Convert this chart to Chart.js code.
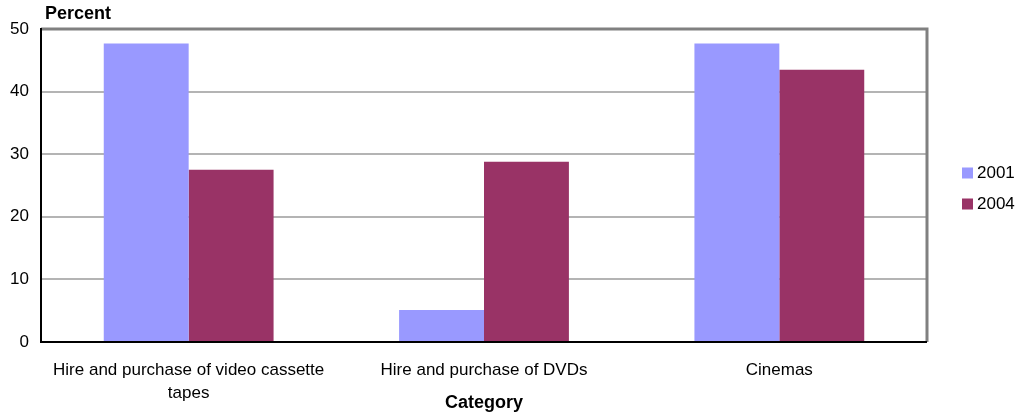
<!DOCTYPE html>
<html><head><meta charset="utf-8">
<script src="https://cdn.jsdelivr.net/npm/chart.js@4.4.1/dist/chart.umd.min.js"></script>
<style>html,body{margin:0;padding:0;background:#fff}#wrap{width:1021px;height:416px;position:relative}</style>
</head><body><div id="wrap"><canvas id="c" width="1021" height="416"></canvas></div>
<script>
const categories = [["Hire and purchase of video cassette","tapes"],"Hire and purchase of DVDs","Cinemas"];
const seriesNames = ["2001","2004"];
const values2001 = [47.7, 5.1, 47.7];
const values2004 = [27.5, 28.8, 43.5];
const colors = ["#9999FF","#993366"];
const yTitle = "Percent";
const xTitle = "Category";
const FONT = "'Liberation Sans', Arial, sans-serif";

const extras = {
  id:'extras',
  afterDraw(chart){
    const ctx = chart.ctx, a = chart.chartArea;
    ctx.save();
    ctx.strokeStyle = '#808080'; ctx.lineWidth = 3;
    ctx.beginPath(); ctx.moveTo(a.left, a.top); ctx.lineTo(a.right, a.top); ctx.lineTo(a.right, a.bottom); ctx.stroke();
    ctx.strokeStyle = '#000'; ctx.lineWidth = 2;
    ctx.beginPath(); ctx.moveTo(a.left, a.top-1); ctx.lineTo(a.left, a.bottom); ctx.lineTo(a.right, a.bottom); ctx.stroke();
    ctx.fillStyle = '#000'; ctx.font = "bold 18px " + FONT; ctx.textBaseline = 'middle'; ctx.textAlign='left';
    ctx.fillText(yTitle, 45, 14);
    ctx.font = "17px " + FONT;
    seriesNames.forEach((n,i)=>{
      const y = 173 + i*31;
      ctx.fillStyle = colors[i]; ctx.fillRect(962, y-5.5, 11, 11);
      ctx.fillStyle = '#000'; ctx.fillText(n, 977, y);
    });
    ctx.restore();
  }
};

new Chart(document.getElementById('c'), {
  type:'bar',
  data:{ labels: categories, datasets:[
    {label:seriesNames[0], data:values2001, backgroundColor:colors[0], categoryPercentage:0.575, barPercentage:1},
    {label:seriesNames[1], data:values2004, backgroundColor:colors[1], categoryPercentage:0.575, barPercentage:1}
  ]},
  options:{
    responsive:false, animation:false,
    layout:{padding:{left:0, top:29, right:94, bottom:0}},
    plugins:{legend:{display:false}, tooltip:{enabled:false}},
    scales:{
      x:{
        grid:{display:false, drawTicks:false},
        border:{display:false},
        ticks:{color:'#000', font:{family:FONT, size:17, lineHeight:1.35}, padding:17, maxRotation:0, autoSkip:false},
        title:{display:true, text:xTitle, color:'#000', font:{family:FONT, size:18, weight:'bold'}, padding:{top:0,bottom:2}},
        afterFit(s){ s.height = 74; }
      },
      y:{
        min:0, max:50,
        ticks:{stepSize:10, color:'#000', font:{family:FONT, size:17}, padding:12},
        grid:{drawTicks:false, color:(c)=> (c.tick && (c.tick.value===0 || c.tick.value===50)) ? 'rgba(0,0,0,0)' : '#b4b4b4', lineWidth:2},
        border:{display:false},
        afterFit(s){ s.width = 41; }
      }
    }
  },
  plugins:[extras]
});
</script></body></html>
